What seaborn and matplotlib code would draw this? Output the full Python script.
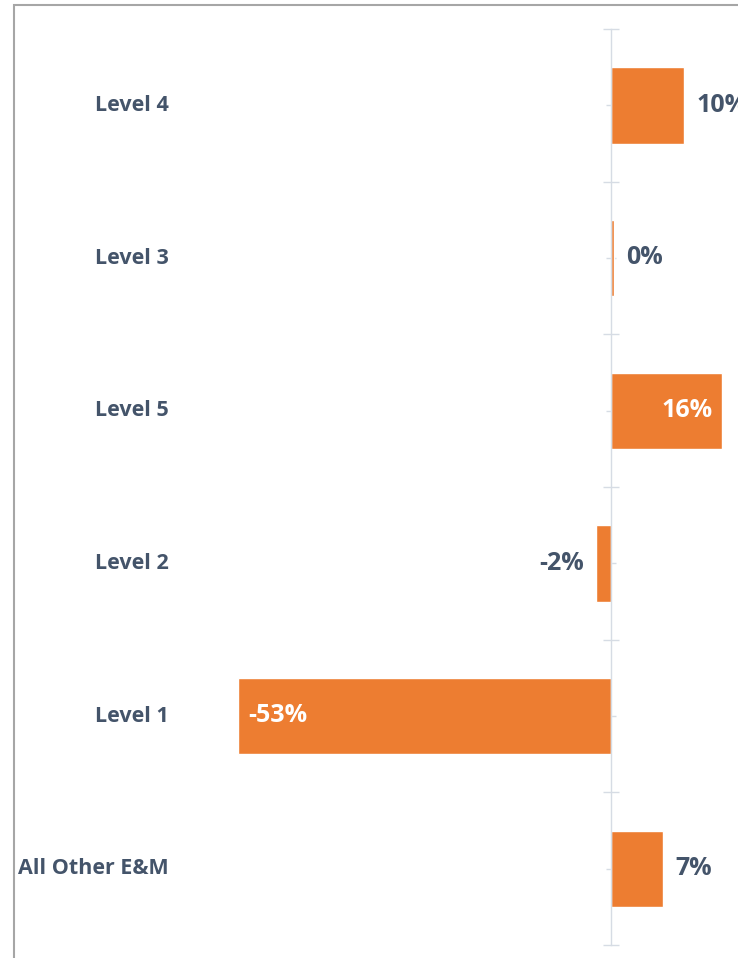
import matplotlib
matplotlib.use("Agg")
import matplotlib.pyplot as plt
import matplotlib.transforms as mtransforms
from matplotlib.patches import Rectangle
import numpy as np
import seaborn as sns

categories = ["Level 4", "Level 3", "Level 5", "Level 2", "Level 1", "All Other E&M"]
pct_change = [10.4, 0.4, 15.8, -2.2, -53.0, 7.4]

ORANGE = "#ED7D31"
TEXT = "#44546A"
AXIS = "#D6DCE4"

sns.set_theme(style="white")
plt.rcParams["font.family"] = ["Open Sans", "DejaVu Sans"]

W, H = 738, 958
fig = plt.figure(figsize=(W / 100, H / 100), dpi=100)
# axes placed so zero sits at x=611px and the bars span the height
x_lo, x_hi = -60, 18
px_per = 7.04
left_px = 611 + x_lo * px_per
right_px = 611 + x_hi * px_per
ax = fig.add_axes([left_px / W, (H - 945) / H, (right_px - left_px) / W, (945 - 29) / H])

sns.barplot(x=pct_change, y=categories, orient="h", color=ORANGE, saturation=1,
            width=0.5, ax=ax)
ax.set_xlim(x_lo, x_hi)
ax.set_ylim(len(categories) - 0.5, -0.5)

# category axis drawn at zero
for s in ["top", "right", "bottom"]:
    ax.spines[s].set_visible(False)
ax.spines["left"].set_position(("data", 0))
ax.spines["left"].set_color(AXIS)
ax.spines["left"].set_linewidth(1.0)
ax.set_xticks([])
ax.set_yticks(np.arange(len(categories) + 1) - 0.5)
ax.set_yticks(np.arange(len(categories)), minor=True)
ax.tick_params(axis="y", which="major", direction="inout", length=12, width=1,
               color=AXIS, labelleft=False, left=True)
ax.tick_params(axis="y", which="minor", direction="inout", length=7, width=1,
               color=AXIS, labelleft=False, left=True)
ax.set_xlabel("")
ax.set_ylabel("")

# category labels, right aligned well left of the axis
lab_tr = mtransforms.blended_transform_factory(fig.transFigure, ax.transData)
for i, c in enumerate(categories):
    ax.text(169 / W, i, c, transform=lab_tr, ha="right", va="center",
            fontsize=15.5, fontweight="bold", color=TEXT)

# value labels
off = mtransforms.offset_copy
for i, v in enumerate(pct_change):
    txt = f"{v:.0f}%"
    if v <= -20:
        tr = off(ax.transData, fig=fig, x=10, y=0, units="dots")
        ax.text(v, i, txt, transform=tr, ha="left", va="center", fontsize=18,
                fontweight="bold", color="white")
    elif v >= 15:
        tr = off(ax.transData, fig=fig, x=-10, y=0, units="dots")
        ax.text(v, i, txt, transform=tr, ha="right", va="center", fontsize=18,
                fontweight="bold", color="white")
    elif v < 0:
        tr = off(ax.transData, fig=fig, x=-12, y=0, units="dots")
        ax.text(v, i, txt, transform=tr, ha="right", va="center", fontsize=18,
                fontweight="bold", color=TEXT)
    else:
        tr = off(ax.transData, fig=fig, x=12, y=0, units="dots")
        ax.text(v, i, txt, transform=tr, ha="left", va="center", fontsize=18,
                fontweight="bold", color=TEXT, clip_on=False)

# grey frame of the chart area (cropped on right and bottom)
fig.add_artist(Rectangle((14 / W, -0.1), 2, (H - 5) / H + 0.1, transform=fig.transFigure,
                         fill=False, edgecolor="#A6A6A6", linewidth=1.5))

fig.savefig("out.png", dpi=100)
plt.close(fig)
